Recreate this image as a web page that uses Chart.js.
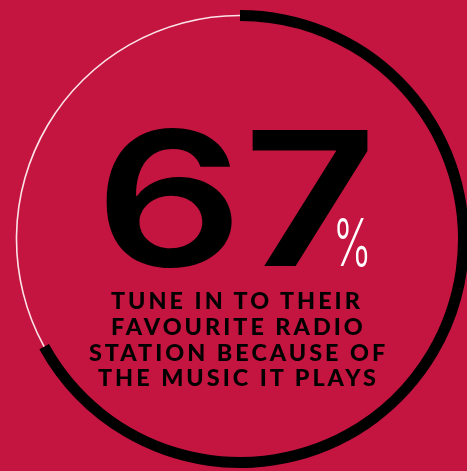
<!DOCTYPE html>
<html>
<head>
<meta charset="utf-8">
<script src="https://cdn.jsdelivr.net/npm/chart.js@4.4.1/dist/chart.umd.min.js"></script>
<style>
  html, body { margin: 0; padding: 0; width: 467px; height: 471px; overflow: hidden; background: #c41540; }
  #ring { position: absolute; left: 11px; top: 10px; width: 458px; height: 458px; }
  .txt { position: absolute; white-space: pre; transform-origin: 0 0; margin: 0; }
</style>
</head>
<body>
<div id="ring"><canvas id="donut"></canvas></div>
<div id="big" class="txt"></div>
<div id="unit" class="txt"></div>
<div id="caption"></div>

<script>
// Datos
const segmentLabels = ['Por la música', 'Otros motivos'];
const segmentValues = [67, 33];
const headlineValue = '67';
const headlineUnit = '%';
const captionLines = ['TUNE IN TO THEIR', 'FAVOURITE RADIO', 'STATION BECAUSE OF', 'THE MUSIC IT PLAYS'];

// Colores
const ringColors = ['#000000', '#fbe3e8'];

// Plugin: la parte blanca es una línea fina sobre el centro del anillo
const thinRest = {
    id: 'thinRest',
    afterDatasetsUpdate(chart) {
        const arc = chart.getDatasetMeta(0).data[1];
        if (!arc) return;
        const mid = (arc.innerRadius + arc.outerRadius) / 2;
        arc.innerRadius = mid - 0.8;
        arc.outerRadius = mid + 0.8;
    }
};

const ctxDonut = document.getElementById('donut').getContext('2d');
const donut = new Chart(ctxDonut, {
    type: 'doughnut',
    data: {
        labels: segmentLabels,
        datasets: [{
            data: segmentValues,
            backgroundColor: ringColors,
            borderWidth: 0
        }]
    },
    options: {
        responsive: true,
        maintainAspectRatio: false,
        animation: false,
        cutout: 218,
        layout: { padding: 0 },
        plugins: {
            legend: { display: false },
            tooltip: { enabled: false }
        }
    },
    plugins: [thinRest]
});

// Medir texto para colocarlo en su caja
const mctx = document.createElement('canvas').getContext('2d');

function fitText(el, text, weight, family, box, color) {
    mctx.font = weight + ' 100px ' + family;
    const m = mctx.measureText(text);
    const k = box.h / (m.actualBoundingBoxAscent + m.actualBoundingBoxDescent);
    const size = 100 * k;
    const inkW = (m.actualBoundingBoxLeft + m.actualBoundingBoxRight) * k;
    const sx = box.w / inkW;
    const baseTop = (size - (m.fontBoundingBoxAscent + m.fontBoundingBoxDescent) * k) / 2 + m.fontBoundingBoxAscent * k;
    const baseline = box.y + m.actualBoundingBoxAscent * k;
    el.textContent = text;
    el.style.font = weight + ' ' + size + 'px ' + family;
    el.style.lineHeight = size + 'px';
    el.style.color = color;
    el.style.top = (baseline - baseTop) + 'px';
    el.style.left = (box.x + m.actualBoundingBoxLeft * k * sx) + 'px';
    el.style.transform = 'scaleX(' + sx + ')';
}

fitText(document.getElementById('big'), headlineValue, 600, 'Inter', { x: 107, y: 128, w: 262, h: 140 }, '#000');
fitText(document.getElementById('unit'), headlineUnit, 300, 'Inter', { x: 337, y: 218, w: 30, h: 50 }, '#fff');

// Texto inferior: mismo tamaño, espaciado y estiramiento para todas las líneas
const capFont = 'Lato';
const capWeight = 900;
const capSpacing = 3;
mctx.font = capWeight + ' 100px ' + capFont;
const capK = 17 / mctx.measureText('H').actualBoundingBoxAscent;
const capSize = 100 * capK;
mctx.font = capWeight + ' ' + capSize + 'px ' + capFont;
const widest = mctx.measureText(captionLines[2]);
const widestInk = widest.actualBoundingBoxLeft + widest.actualBoundingBoxRight + capSpacing * (captionLines[2].length - 1);
const capScale = 296 / widestInk;
const fm = mctx.measureText('H');
const fontAsc = fm.fontBoundingBoxAscent, fontDesc = fm.fontBoundingBoxDescent;

captionLines.forEach((line, i) => {
    const m = mctx.measureText(line);
    const inkW = (m.actualBoundingBoxLeft + m.actualBoundingBoxRight + capSpacing * (line.length - 1)) * capScale;
    const el = document.createElement('div');
    el.className = 'txt';
    el.textContent = line;
    el.style.font = capWeight + ' ' + capSize + 'px ' + capFont;
    el.style.lineHeight = capSize + 'px';
    el.style.letterSpacing = capSpacing + 'px';
    el.style.color = '#000';
    el.style.transform = 'scaleX(' + capScale + ')';
    const baseline = 293 + 25.7 * i + 17;
    el.style.top = (baseline - ((capSize - fontAsc - fontDesc) / 2 + fontAsc)) + 'px';
    el.style.left = (237 - inkW / 2 + m.actualBoundingBoxLeft * capScale) + 'px';
    document.getElementById('caption').appendChild(el);
});
</script>
</body>
</html>
